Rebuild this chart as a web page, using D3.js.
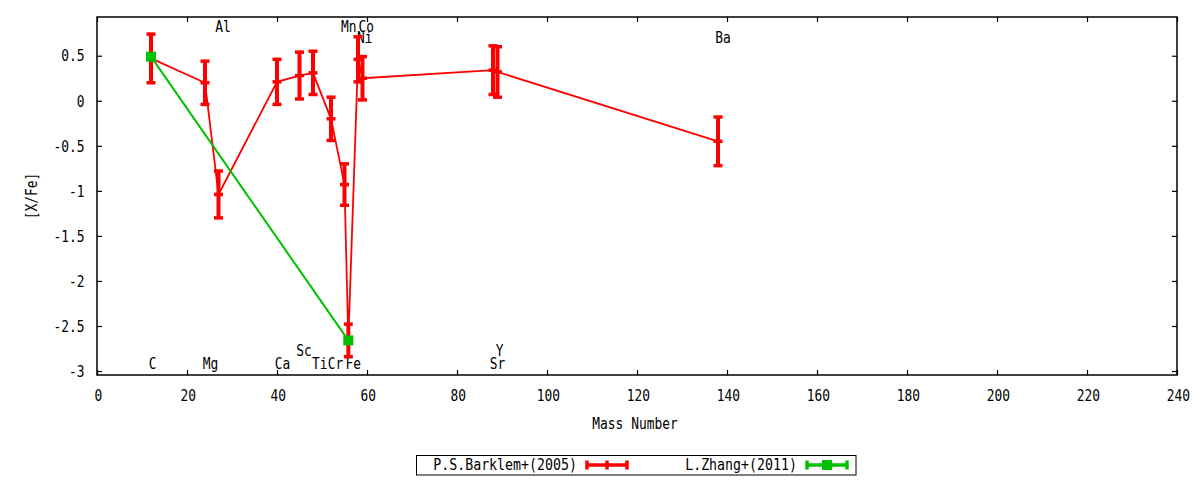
<!DOCTYPE html>
<html>
<head>
<meta charset="utf-8">
<script src="https://cdn.jsdelivr.net/npm/d3@7"></script>
<style>
  html, body { margin: 0; padding: 0; background: #fff; }
  svg { display: block; }
</style>
</head>
<body>
<svg id="chart" width="1200" height="480"></svg>
<script>
// ---------------- data ----------------
const barklemMass  = [12, 24, 27, 40, 45, 48, 52, 55, 55.85, 58, 59, 88, 89, 138];
const barklemValue = [0.47, 0.20, -1.04, 0.21, 0.28, 0.31, -0.20, -0.93, -2.66, 0.46, 0.25, 0.34, 0.32, -0.45];
const barklemError = [0.27, 0.24, 0.26, 0.25, 0.26, 0.24, 0.24, 0.23, 0.18, 0.25, 0.24, 0.27, 0.28, 0.27];

const zhangMass  = [12, 55.85];
const zhangValue = [0.49, -2.66];

const elementNames  = ["C", "Mg", "Al", "Ca", "Sc", "Ti", "Cr", "Fe", "Mn", "Co", "Ni", "Sr", "Y", "Ba"];
const elementLabelX = [11.5, 23.5, 26.3, 39.5, 44.3, 47.8, 51.3, 55.2, 54.2, 58.1, 57.8, 87.3, 88.6, 137.4];
const elementLabelY = [-2.92, -2.92, 0.82, -2.92, -2.77, -2.92, -2.92, -2.92, 0.82, 0.82, 0.70, -2.92, -2.77, 0.70];

const xTicks = [0, 20, 40, 60, 80, 100, 120, 140, 160, 180, 200, 220, 240];
const yTicks = [-3, -2.5, -2, -1.5, -1, -0.5, 0, 0.5];

const seriesNames = ["P.S.Barklem+(2005)", "L.Zhang+(2011)"];
const xTitle = "Mass Number";
const yTitle = "[X/Fe]";

(function () {
// ---------------- layout ----------------
const pLeft = 97, pRight = 1177, pTop = 17, pBottom = 375;
const RED = "#ff0000", GREEN = "#00c000";
const FONT = "'DejaVu Sans Mono', 'Liberation Mono', monospace";
const FS = 15, SX = 0.86;

const svg = d3.select("#chart");
const x = d3.scaleLinear().domain([0, 240]).range([pLeft, pRight]);
const y = d3.scaleLinear().domain([-3.044, 0.93]).range([pBottom, pTop]);

function txt(parent, px, py, s, anchor, rot, sx) {
  const g = parent.append("g")
    .attr("transform", `translate(${px},${py})${rot ? ` rotate(${rot})` : ""} scale(${sx || SX},1)`);
  g.append("text")
    .attr("text-anchor", anchor || "middle")
    .attr("dominant-baseline", "central")
    .style("font-family", FONT)
    .style("font-size", FS + "px")
    .attr("fill", "#000")
    .text(s);
  return g;
}

// axes (ticks inward, mirrored)
const fmt = d => String(d);
const axB = svg.append("g").attr("transform", `translate(0,${pBottom})`)
  .call(d3.axisBottom(x).tickValues(xTicks).tickSizeInner(-5).tickSizeOuter(0).tickFormat(fmt));
const axT = svg.append("g").attr("transform", `translate(0,${pTop})`)
  .call(d3.axisTop(x).tickValues(xTicks).tickSizeInner(-5).tickSizeOuter(0).tickFormat(""));
const axL = svg.append("g").attr("transform", `translate(${pLeft},0)`)
  .call(d3.axisLeft(y).tickValues(yTicks).tickSizeInner(-5).tickSizeOuter(0).tickFormat(fmt));
const axR = svg.append("g").attr("transform", `translate(${pRight},0)`)
  .call(d3.axisRight(y).tickValues(yTicks).tickSizeInner(-5).tickSizeOuter(0).tickFormat(""));

[axB, axT, axL, axR].forEach(a => {
  a.select(".domain").remove();
  a.selectAll(".tick line").attr("stroke", "#000").attr("stroke-width", 1.2);
});
axB.selectAll(".tick text")
  .attr("x", 1).attr("y", 21).attr("dy", "0.35em")
  .attr("transform", `scale(${SX},1)`)
  .style("font-family", FONT).style("font-size", FS + "px").attr("fill", "#000");
axL.selectAll(".tick text")
  .attr("x", -12.5 / SX).attr("dy", "0.35em")
  .attr("transform", `scale(${SX},1)`)
  .style("font-family", FONT).style("font-size", FS + "px").attr("fill", "#000");

// frame
svg.append("rect")
  .attr("x", pLeft).attr("y", pTop)
  .attr("width", pRight - pLeft).attr("height", pBottom - pTop)
  .attr("fill", "none").attr("stroke", "#000").attr("stroke-width", 1.5);

// axis titles
txt(svg, (pLeft + pRight) / 2 - 2, 424, xTitle, "middle");
txt(svg, 32, 196, yTitle, "middle", -90);

// element labels
elementNames.forEach((n, i) => {
  txt(svg, x(elementLabelX[i]), y(elementLabelY[i]), n, "start");
});

// ---------------- Barklem series ----------------
const bData = barklemMass.map((m, i) => ({ m, v: barklemValue[i], e: barklemError[i] }));
const line = d3.line().x(d => x(d.m)).y(d => y(d.v));
const gB = svg.append("g");
gB.append("path").datum(bData).attr("d", line)
  .attr("fill", "none").attr("stroke", RED).attr("stroke-width", 1.8);
const CAP = 4.5;
bData.forEach(d => {
  const cx = x(d.m);
  gB.append("line").attr("x1", cx).attr("x2", cx)
    .attr("y1", y(d.v + d.e)).attr("y2", y(d.v - d.e))
    .attr("stroke", RED).attr("stroke-width", 4);
  [d.v + d.e, d.v - d.e, d.v].forEach(v => {
    gB.append("line").attr("x1", cx - CAP).attr("x2", cx + CAP)
      .attr("y1", y(v)).attr("y2", y(v))
      .attr("stroke", RED).attr("stroke-width", 3.5);
  });
});

// ---------------- Zhang series ----------------
const zData = zhangMass.map((m, i) => ({ m, v: zhangValue[i] }));
const gZ = svg.append("g");
gZ.append("path").datum(zData).attr("d", line)
  .attr("fill", "none").attr("stroke", GREEN).attr("stroke-width", 2);
zData.forEach(d => {
  gZ.append("rect").attr("x", x(d.m) - 5).attr("y", y(d.v) - 5)
    .attr("width", 10).attr("height", 10).attr("fill", GREEN);
});

// ---------------- legend ----------------
const lg = svg.append("g");
lg.append("rect").attr("x", 416.5).attr("y", 455.5).attr("width", 439.5).attr("height", 19.5)
  .attr("fill", "#fff").attr("stroke", "#000").attr("stroke-width", 1);
const ly = 465;
txt(lg, 577, ly, seriesNames[0], "end", 0, 0.885);
lg.append("line").attr("x1", 587).attr("x2", 627).attr("y1", ly).attr("y2", ly)
  .attr("stroke", RED).attr("stroke-width", 3.5);
[587, 627, 607].forEach(px => {
  lg.append("line").attr("x1", px).attr("x2", px).attr("y1", ly - 4.5).attr("y2", ly + 4.5)
    .attr("stroke", RED).attr("stroke-width", 3.5);
});
txt(lg, 797, ly, seriesNames[1], "end", 0, 0.885);
lg.append("line").attr("x1", 807).attr("x2", 847).attr("y1", ly).attr("y2", ly)
  .attr("stroke", GREEN).attr("stroke-width", 3.5);
[807, 847].forEach(px => {
  lg.append("line").attr("x1", px).attr("x2", px).attr("y1", ly - 4.5).attr("y2", ly + 4.5)
    .attr("stroke", GREEN).attr("stroke-width", 3.5);
});
lg.append("rect").attr("x", 822).attr("y", ly - 5).attr("width", 10).attr("height", 10).attr("fill", GREEN);
})();
</script>
</body>
</html>
